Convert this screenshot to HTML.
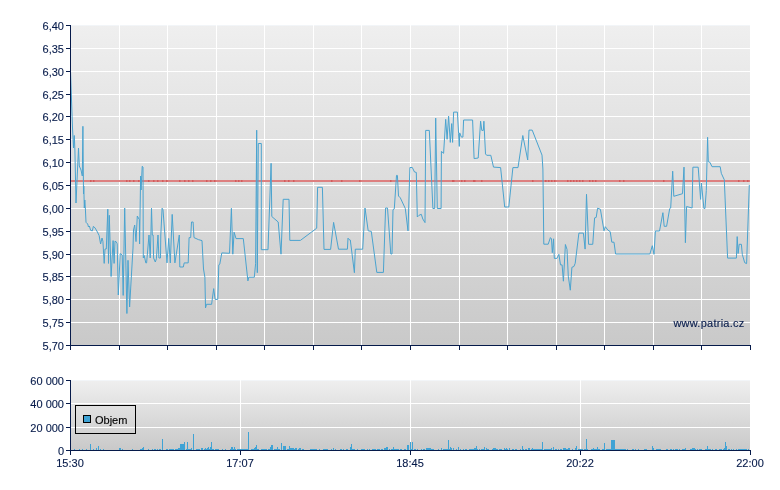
<!DOCTYPE html>
<html><head><meta charset="utf-8"><style>
html,body{margin:0;padding:0;background:#fff;}
svg{display:block;}
text{font-family:"Liberation Sans", sans-serif;font-size:11px;fill:#061a4a;stroke:#061a4a;stroke-width:0.12px;}
svg{will-change:transform;}
</style></head><body>
<svg width="780" height="490" viewBox="0 0 780 490">
<defs>
<linearGradient id="g1" x1="0" y1="0" x2="0" y2="1">
<stop offset="0" stop-color="#efefef"/><stop offset="1" stop-color="#c9c9c9"/>
</linearGradient>
<linearGradient id="g2" x1="0" y1="0" x2="0" y2="1">
<stop offset="0" stop-color="#efefef"/><stop offset="1" stop-color="#c9c9c9"/>
</linearGradient>
</defs>

<rect x="71" y="25" width="679" height="320" fill="url(#g1)"/>
<rect x="71" y="25" width="679" height="1" fill="#f2f5f8"/>
<path d="M119.5 25V345M167.5 25V345M216.5 25V345M264.5 25V345M313.5 25V345M361.5 25V345M410.5 25V345M459.5 25V345M507.5 25V345M556.5 25V345M604.5 25V345M653.5 25V345M701.5 25V345M71 48.5H750M71 71.5H750M71 94.5H750M71 116.5H750M71 139.5H750M71 162.5H750M71 185.5H750M71 208.5H750M71 231.5H750M71 254.5H750M71 276.5H750M71 299.5H750M71 322.5H750" stroke="#fff" stroke-width="1" fill="none" shape-rendering="crispEdges"/>
<text x="744.5" y="326.5" text-anchor="end" style="letter-spacing:0.25px">www.patria.cz</text>
<rect x="71" y="180" width="679" height="2" fill="#dd8080" shape-rendering="crispEdges"/>
<path d="M90 180h1.5v2h-1.5zM93 180h1.5v2h-1.5zM126 180h1.5v2h-1.5zM129 180h1.5v2h-1.5zM133 180h1.5v2h-1.5zM138 180h1.5v2h-1.5zM148 180h1.5v2h-1.5zM153 180h1.5v2h-1.5zM157 180h1.5v2h-1.5zM162 180h1.5v2h-1.5zM166 180h1.5v2h-1.5zM179 180h1.5v2h-1.5zM184 180h1.5v2h-1.5zM188 180h1.5v2h-1.5zM192 180h1.5v2h-1.5zM206 180h1.5v2h-1.5zM210 180h1.5v2h-1.5zM214 180h1.5v2h-1.5zM235 180h1.5v2h-1.5zM238 180h1.5v2h-1.5zM241 180h1.5v2h-1.5zM284 180h1.5v2h-1.5zM288 180h1.5v2h-1.5zM293 180h1.5v2h-1.5zM331 180h1.5v2h-1.5zM341 180h1.5v2h-1.5zM359 180h1.5v2h-1.5zM390 180h1.5v2h-1.5zM452 180h1.5v2h-1.5zM453 180h1.5v2h-1.5zM461 180h1.5v2h-1.5zM464 180h1.5v2h-1.5zM473 180h1.5v2h-1.5zM474 180h1.5v2h-1.5zM481 180h1.5v2h-1.5zM532 180h1.5v2h-1.5zM545 180h1.5v2h-1.5zM548 180h1.5v2h-1.5zM551 180h1.5v2h-1.5zM554 180h1.5v2h-1.5zM567 180h1.5v2h-1.5zM570 180h1.5v2h-1.5zM573 180h1.5v2h-1.5zM576 180h1.5v2h-1.5zM579 180h1.5v2h-1.5zM582 180h1.5v2h-1.5zM589 180h1.5v2h-1.5zM592 180h1.5v2h-1.5zM595 180h1.5v2h-1.5zM619 180h1.5v2h-1.5zM623 180h1.5v2h-1.5zM663 180h1.5v2h-1.5zM738 180h1.5v2h-1.5zM743 180h1.5v2h-1.5zM747 180h1.5v2h-1.5z" fill="#d25c5c"/>
<path d="M70.5 71 L72.5 128 L73.5 148 L74.3 135.5 L74.9 150 L76 203 L78.5 148 L79.3 166 L81 170 L82.3 176 L82.9 126.3 L83.5 194 L83.8 186 L84.3 208 L84.8 200 L85.4 209 L86 222.3 L87.7 224 L88.5 227 L89.4 226 L90.6 230.3 L92.3 230.9 L93.4 226.3 L95.1 228 L97.4 232 L99.1 235.5 L100.6 244 L102 238 L102.9 241.2 L104.2 263.4 L105 249 L106.3 249 L107.8 209.2 L108.5 263.4 L109.3 215.3 L111.1 276.5 L113.1 240.6 L114.1 263.4 L115 241.2 L116.3 241.9 L117.2 243.8 L118.3 295 L120.2 253.6 L122.2 254.9 L123.2 295.4 L124.7 208 L126.9 313.5 L128 260.3 L129.6 307 L133 248 L133.5 230 L134.7 225 L136 241.6 L137.3 216 L139.3 219.6 L139.6 244 L140.6 176 L141.1 190 L142.2 166.3 L143 167 L143.3 258 L144.2 255.5 L145.8 262.9 L146.6 262.9 L149 235 L150.2 258 L150.9 235 L151.5 208.2 L152.3 235 L153.1 235 L153.6 258 L155.3 262 L156.4 258.8 L158 235 L158.9 258 L160.5 258 L160.8 235 L162.1 208.2 L163 209.8 L167 262.9 L168.7 238.4 L170.3 262.9 L172.2 214.4 L174.9 262.9 L179.3 235 L179.8 267 L183.3 267 L184.2 262.9 L188.2 262.9 L189.1 237.6 L190.7 237.6 L191.5 222 L193.1 222 L194 237.6 L198.4 239.6 L202 240.6 L203.5 269 L204.9 277.3 L205.5 308 L206.5 304.3 L211.6 304.3 L213.7 288.6 L215.1 299.4 L217.8 299.4 L218.8 265 L219.8 264 L221.8 252.9 L229.5 253.3 L231.4 208.3 L232.8 254.2 L234.1 232.2 L236 238.6 L243.3 238.6 L247.9 280.9 L248.8 277.2 L254.3 277.2 L255.6 263.7 L256.7 130.2 L257.3 272.7 L258.3 143.5 L261.3 143.5 L261.3 249.7 L268 249.7 L271.1 163.3 L271.8 216.5 L278.2 222 L281 254.2 L283.2 199.3 L289 199.3 L289.8 240.4 L300.4 240.4 L316.7 228.2 L317.6 187.3 L322.4 187.3 L324 249.4 L330.6 249.4 L333.6 222.4 L338.5 249.2 L347.4 249.2 L348 238.2 L349.2 239.6 L350.3 240 L354.4 272.7 L355.3 249.2 L362.7 249.2 L365 208 L368.2 230.8 L371.3 231.4 L376.8 272.4 L383.4 272.4 L385.6 208 L387.5 208 L390.8 254 L392 254 L393 209.7 L394.3 208.8 L396.5 175.4 L397.4 175.4 L398.5 196 L400.3 197.8 L405.3 208.5 L408 230.9 L409.9 167.5 L412.3 167.5 L414.5 172 L416.3 172.4 L417.3 217 L419 215.3 L421.3 214.3 L422.8 219 L425 222.6 L425.7 130.4 L429.3 130.4 L432.9 208.5 L434.7 208.5 L435.7 118.1 L437.3 208.5 L441.1 208.5 L441.4 151.4 L443.6 153.3 L445.7 119.3 L447.1 139.3 L448.6 116.1 L450.3 142.4 L451.7 123.6 L452.6 142.4 L453.6 112.1 L457.4 112.1 L458.6 133.6 L459.3 146.4 L459.7 132.9 L461.4 137.1 L462.9 137.1 L463.6 120 L472.6 120 L474.1 158.6 L478.2 158 L480.6 121.2 L481.8 130.4 L483.3 130.4 L483.9 121.2 L485.5 153.9 L486.7 155.3 L490.8 155.3 L493.5 167.1 L500.6 167.6 L504.7 207 L508.8 207 L512.9 167.6 L518 167.6 L522.8 135.5 L527.7 160 L529 130.1 L532.2 130.1 L542 155.1 L542.9 169 L543.8 244.2 L548.2 244.2 L550.4 237.6 L551.5 238.8 L552.3 252.7 L553.6 238.8 L554.3 258.4 L556.9 258.4 L558.9 254.3 L560.5 264.9 L562.1 264.9 L563.4 281.2 L565.4 244.5 L567 249.4 L568.3 276.3 L570.3 290.2 L571.9 267.3 L573.9 266.5 L575.2 263.3 L578.9 233.1 L583.4 233.1 L585.1 249.1 L586.5 194.3 L588.6 244.3 L592.75 244.3 L594.6 217.9 L596.2 217.4 L597.6 208.2 L600.4 209.3 L604 230.8 L605.3 226.7 L607.8 230 L610.2 231.6 L611.8 242.2 L614 242.2 L615.6 254 L649.9 254 L652.3 245.7 L654 254.3 L655.4 231 L659.5 231 L662.9 212.7 L664.2 226.3 L666.6 226.3 L669.7 208.6 L670.7 208 L672.7 171.2 L673.8 196.3 L682.5 193.7 L684 167.1 L685.4 242.7 L686.6 206.5 L692.1 208 L692.9 167.2 L698.2 167.2 L700.6 199.4 L701.4 183 L703.9 208.4 L705 208.4 L706.3 190.4 L707.6 137.3 L708.3 161.8 L709.9 162.3 L712 166.7 L720.2 166.7 L721.3 173.3 L724.3 179.8 L727.6 258.1 L736.4 258.1 L737.2 236.6 L738.1 253.5 L739.2 244.3 L741.4 244.3 L742.3 254.4 L744.7 262.7 L746.6 263.6 L749.3 185" stroke="#4aa3cf" stroke-width="1" fill="none" stroke-linejoin="round"/>
<path d="M70.5 25V346M70 345.5H751M66 25.5H70M66 48.5H70M66 71.5H70M66 94.5H70M66 116.5H70M66 139.5H70M66 162.5H70M66 185.5H70M66 208.5H70M66 231.5H70M66 254.5H70M66 276.5H70M66 299.5H70M66 322.5H70M66 345.5H70M70.5 345V350M119.5 345V350M167.5 345V350M216.5 345V350M264.5 345V350M313.5 345V350M361.5 345V350M410.5 345V350M459.5 345V350M507.5 345V350M556.5 345V350M604.5 345V350M653.5 345V350M701.5 345V350M750.5 345V350" stroke="#061a4a" stroke-width="1" fill="none" shape-rendering="crispEdges"/>
<text x="64" y="30" text-anchor="end">6,40</text>
<text x="64" y="53" text-anchor="end">6,35</text>
<text x="64" y="76" text-anchor="end">6,30</text>
<text x="64" y="99" text-anchor="end">6,25</text>
<text x="64" y="121" text-anchor="end">6,20</text>
<text x="64" y="144" text-anchor="end">6,15</text>
<text x="64" y="167" text-anchor="end">6,10</text>
<text x="64" y="190" text-anchor="end">6,05</text>
<text x="64" y="213" text-anchor="end">6,00</text>
<text x="64" y="236" text-anchor="end">5,95</text>
<text x="64" y="259" text-anchor="end">5,90</text>
<text x="64" y="281" text-anchor="end">5,85</text>
<text x="64" y="304" text-anchor="end">5,80</text>
<text x="64" y="327" text-anchor="end">5,75</text>
<text x="64" y="350" text-anchor="end">5,70</text>
<rect x="71" y="380" width="679" height="70" fill="url(#g2)"/>
<rect x="71" y="380" width="679" height="1" fill="#f2f5f8"/>
<path d="M240.5 380V450M410.5 380V450M580.5 380V450M71 403.5H750M71 427.5H750" stroke="#fff" stroke-width="1" fill="none" shape-rendering="crispEdges"/>
<path d="M74 449h1v1h-1zM79 449h1v1h-1zM86 449h1v1h-1zM90 444h1v6h-1zM93 449h1v1h-1zM96 448h1v2h-1zM98 446h1v4h-1zM103 449h1v1h-1zM119 448h2v2h-2zM122 449h1v1h-1zM132 449h1v1h-1zM141 449h1v1h-1zM142 448h1v2h-1zM143 447h1v3h-1zM154 449h2v1h-2zM159 449h1v1h-1zM162 439h1v11h-1zM178 448h2v2h-2zM180 444h4v6h-4zM184 442h1v8h-1zM187 442h1v8h-1zM189 449h1v1h-1zM191 448h1v2h-1zM193 434h1v16h-1zM196 449h1v1h-1zM201 448h2v2h-2zM205 448h1v2h-1zM207 448h1v2h-1zM208 447h1v3h-1zM210 447h1v3h-1zM211 442h1v8h-1zM231 447h2v3h-2zM234 447h1v3h-1zM248 432h1v18h-1zM254 448h1v2h-1zM255 447h1v3h-1zM256 445h1v5h-1zM270 447h1v3h-1zM271 445h2v5h-2zM277 447h1v3h-1zM281 443h1v7h-1zM283 446h3v4h-3zM289 446h1v4h-1zM290 448h4v2h-4zM295 448h2v2h-2zM299 448h2v2h-2zM333 448h1v2h-1zM350 447h1v3h-1zM351 444h1v6h-1zM384 448h2v2h-2zM386 447h2v3h-2zM393 447h1v3h-1zM407 445h2v5h-2zM410 442h1v8h-1zM412 442h1v8h-1zM426 448h5v2h-5zM441 448h1v2h-1zM448 440h1v10h-1zM450 447h1v3h-1zM451 448h1v2h-1zM453 448h1v2h-1zM458 447h1v3h-1zM474 448h2v2h-2zM476 446h1v4h-1zM484 447h1v3h-1zM486 448h1v2h-1zM493 448h3v2h-3zM504 448h1v2h-1zM506 448h1v2h-1zM509 448h1v2h-1zM522 446h1v4h-1zM528 448h2v2h-2zM532 448h1v2h-1zM542 442h1v8h-1zM551 448h1v2h-1zM553 447h1v3h-1zM563 448h3v2h-3zM568 448h2v2h-2zM575 448h1v2h-1zM576 446h1v4h-1zM586 439h1v11h-1zM593 448h1v2h-1zM597 447h1v3h-1zM604 443h1v7h-1zM611 440h4v10h-4zM652 446h1v4h-1zM653 448h1v2h-1zM685 448h1v2h-1zM692 448h3v2h-3zM707 446h1v4h-1zM724 448h2v2h-2zM725 442h1v8h-1zM726 446h1v4h-1zM82 449h1v1h-1zM100 449h1v1h-1zM140 449h1v1h-1zM148 449h1v1h-1zM152 449h1v1h-1zM157 449h1v1h-1zM160 449h1v1h-1zM166 449h1v1h-1zM167 449h1v1h-1zM169 449h1v1h-1zM170 449h1v1h-1zM171 449h1v1h-1zM172 449h1v1h-1zM173 449h1v1h-1zM175 449h1v1h-1zM176 449h1v1h-1zM177 449h1v1h-1zM186 449h1v1h-1zM188 449h1v1h-1zM190 449h1v1h-1zM197 449h1v1h-1zM198 449h1v1h-1zM199 449h1v1h-1zM204 449h1v1h-1zM206 449h1v1h-1zM209 449h1v1h-1zM212 449h1v1h-1zM213 449h1v1h-1zM215 449h1v1h-1zM216 449h1v1h-1zM217 449h1v1h-1zM218 449h1v1h-1zM222 449h1v1h-1zM225 449h1v1h-1zM230 449h1v1h-1zM233 449h1v1h-1zM235 449h1v1h-1zM237 449h1v1h-1zM238 449h1v1h-1zM239 449h1v1h-1zM240 449h1v1h-1zM241 449h1v1h-1zM242 449h1v1h-1zM243 449h1v1h-1zM244 449h1v1h-1zM245 449h1v1h-1zM246 449h1v1h-1zM247 449h1v1h-1zM251 449h1v1h-1zM252 449h1v1h-1zM253 449h1v1h-1zM257 449h1v1h-1zM258 449h1v1h-1zM261 449h1v1h-1zM262 449h1v1h-1zM263 449h1v1h-1zM264 449h1v1h-1zM265 449h1v1h-1zM266 449h1v1h-1zM268 449h1v1h-1zM269 449h1v1h-1zM274 449h1v1h-1zM275 449h1v1h-1zM276 449h1v1h-1zM278 449h1v1h-1zM279 449h1v1h-1zM287 449h1v1h-1zM288 449h1v1h-1zM294 449h1v1h-1zM298 449h1v1h-1zM302 449h1v1h-1zM303 449h1v1h-1zM310 449h1v1h-1zM311 449h1v1h-1zM312 449h1v1h-1zM313 449h1v1h-1zM314 449h1v1h-1zM315 449h1v1h-1zM316 449h1v1h-1zM319 449h1v1h-1zM323 449h1v1h-1zM324 449h1v1h-1zM325 449h1v1h-1zM326 449h1v1h-1zM327 449h1v1h-1zM331 449h1v1h-1zM335 449h1v1h-1zM340 449h1v1h-1zM341 449h1v1h-1zM343 449h1v1h-1zM346 449h1v1h-1zM347 449h1v1h-1zM352 449h1v1h-1zM353 449h1v1h-1zM354 449h1v1h-1zM357 449h1v1h-1zM361 449h1v1h-1zM362 449h1v1h-1zM363 449h1v1h-1zM364 449h1v1h-1zM367 449h1v1h-1zM369 449h1v1h-1zM372 449h1v1h-1zM373 449h1v1h-1zM374 449h1v1h-1zM375 449h1v1h-1zM377 449h1v1h-1zM378 449h1v1h-1zM379 449h1v1h-1zM381 449h1v1h-1zM382 449h1v1h-1zM389 449h1v1h-1zM391 449h1v1h-1zM392 449h1v1h-1zM394 449h1v1h-1zM395 449h1v1h-1zM396 449h1v1h-1zM397 449h1v1h-1zM398 449h1v1h-1zM400 449h1v1h-1zM401 449h1v1h-1zM404 449h1v1h-1zM405 449h1v1h-1zM411 449h1v1h-1zM414 449h1v1h-1zM415 449h1v1h-1zM417 449h1v1h-1zM421 449h1v1h-1zM423 449h1v1h-1zM424 449h1v1h-1zM431 449h1v1h-1zM432 449h1v1h-1zM433 449h1v1h-1zM438 449h1v1h-1zM443 449h1v1h-1zM444 449h1v1h-1zM445 449h1v1h-1zM446 449h1v1h-1zM447 449h1v1h-1zM449 449h1v1h-1zM456 449h1v1h-1zM460 449h1v1h-1zM463 449h1v1h-1zM465 449h1v1h-1zM466 449h1v1h-1zM469 449h1v1h-1zM470 449h1v1h-1zM471 449h1v1h-1zM472 449h1v1h-1zM473 449h1v1h-1zM477 449h1v1h-1zM479 449h1v1h-1zM481 449h1v1h-1zM482 449h1v1h-1zM483 449h1v1h-1zM487 449h1v1h-1zM488 449h1v1h-1zM492 449h1v1h-1zM496 449h1v1h-1zM497 449h1v1h-1zM499 449h1v1h-1zM500 449h1v1h-1zM501 449h1v1h-1zM505 449h1v1h-1zM507 449h1v1h-1zM512 449h1v1h-1zM513 449h1v1h-1zM515 449h1v1h-1zM516 449h1v1h-1zM520 449h1v1h-1zM523 449h1v1h-1zM525 449h1v1h-1zM526 449h1v1h-1zM531 449h1v1h-1zM533 449h1v1h-1zM534 449h1v1h-1zM535 449h1v1h-1zM536 449h1v1h-1zM537 449h1v1h-1zM538 449h1v1h-1zM539 449h1v1h-1zM540 449h1v1h-1zM541 449h1v1h-1zM544 449h1v1h-1zM545 449h1v1h-1zM546 449h1v1h-1zM547 449h1v1h-1zM548 449h1v1h-1zM549 449h1v1h-1zM550 449h1v1h-1zM555 449h1v1h-1zM556 449h1v1h-1zM558 449h1v1h-1zM560 449h1v1h-1zM561 449h1v1h-1zM566 449h1v1h-1zM567 449h1v1h-1zM572 449h1v1h-1zM578 449h1v1h-1zM579 449h1v1h-1zM580 449h1v1h-1zM581 449h1v1h-1zM582 449h1v1h-1zM584 449h1v1h-1zM585 449h1v1h-1zM587 449h1v1h-1zM591 449h1v1h-1zM592 449h1v1h-1zM594 449h1v1h-1zM595 449h1v1h-1zM596 449h1v1h-1zM598 449h1v1h-1zM599 449h1v1h-1zM602 449h1v1h-1zM603 449h1v1h-1zM606 449h1v1h-1zM607 449h1v1h-1zM608 449h1v1h-1zM609 449h1v1h-1zM610 449h1v1h-1zM615 449h1v1h-1zM616 449h1v1h-1zM617 449h1v1h-1zM618 449h1v1h-1zM619 449h1v1h-1zM620 449h1v1h-1zM621 449h1v1h-1zM622 449h1v1h-1zM623 449h1v1h-1zM624 449h1v1h-1zM625 449h1v1h-1zM627 449h1v1h-1zM632 449h1v1h-1zM633 449h1v1h-1zM635 449h1v1h-1zM638 449h1v1h-1zM644 449h1v1h-1zM645 449h1v1h-1zM646 449h1v1h-1zM656 449h1v1h-1zM657 449h1v1h-1zM658 449h1v1h-1zM659 449h1v1h-1zM660 449h1v1h-1zM666 449h1v1h-1zM667 449h1v1h-1zM670 449h1v1h-1zM671 449h1v1h-1zM673 449h1v1h-1zM675 449h1v1h-1zM676 449h1v1h-1zM677 449h1v1h-1zM679 449h1v1h-1zM682 449h1v1h-1zM683 449h1v1h-1zM684 449h1v1h-1zM690 449h1v1h-1zM691 449h1v1h-1zM695 449h1v1h-1zM697 449h1v1h-1zM699 449h1v1h-1zM700 449h1v1h-1zM701 449h1v1h-1zM705 449h1v1h-1zM706 449h1v1h-1zM708 449h1v1h-1zM709 449h1v1h-1zM710 449h1v1h-1zM712 449h1v1h-1zM715 449h1v1h-1zM716 449h1v1h-1zM719 449h1v1h-1zM720 449h1v1h-1zM721 449h1v1h-1zM723 449h1v1h-1zM728 449h1v1h-1zM729 449h1v1h-1zM731 449h1v1h-1zM733 449h1v1h-1zM736 449h1v1h-1zM738 449h1v1h-1zM739 449h1v1h-1zM740 449h1v1h-1zM741 449h1v1h-1zM742 449h1v1h-1zM743 449h1v1h-1zM744 449h1v1h-1zM745 449h1v1h-1zM746 449h1v1h-1zM748 449h1v1h-1z" fill="#3fa3d5" shape-rendering="crispEdges"/>
<rect x="75.5" y="405.5" width="60" height="28" fill="none" stroke="#000" stroke-width="1" shape-rendering="crispEdges"/>
<rect x="83.5" y="415.5" width="7" height="7" fill="#3fa3d5" stroke="#000" stroke-width="1" shape-rendering="crispEdges"/>
<text x="95" y="424" style="fill:#000;stroke:#000">Objem</text>
<path d="M70.5 380V451M70 450.5H751M66 380.5H70M66 403.5H70M66 427.5H70M66 450.5H70M70.5 450V455M240.5 450V455M410.5 450V455M580.5 450V455M750.5 450V455" stroke="#061a4a" stroke-width="1" fill="none" shape-rendering="crispEdges"/>
<text x="64" y="385" text-anchor="end">60 000</text>
<text x="64" y="408" text-anchor="end">40 000</text>
<text x="64" y="432" text-anchor="end">20 000</text>
<text x="64" y="455" text-anchor="end">0</text>
<text x="70" y="467" text-anchor="middle">15:30</text>
<text x="240" y="467" text-anchor="middle">17:07</text>
<text x="410" y="467" text-anchor="middle">18:45</text>
<text x="580" y="467" text-anchor="middle">20:22</text>
<text x="750" y="467" text-anchor="middle">22:00</text>
</svg></body></html>
